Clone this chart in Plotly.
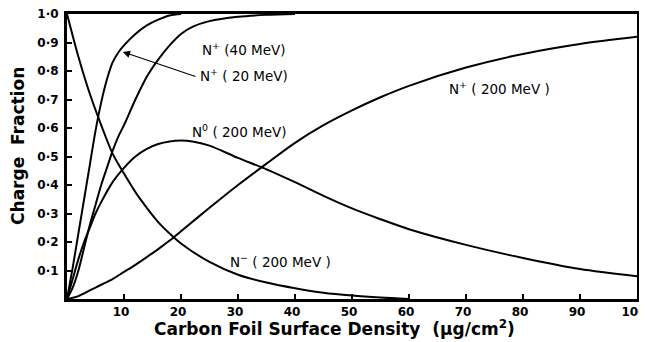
import plotly.graph_objects as go

# N- (200 MeV)
nminus_x = [0, 2, 4, 6, 8, 10, 12, 14, 16, 18, 20, 25, 30, 35, 40, 45, 50, 55, 60]
nminus_y = [1.0, 0.85, 0.72, 0.61, 0.51, 0.44, 0.375, 0.32, 0.27, 0.23, 0.195, 0.13, 0.085, 0.058, 0.038, 0.022, 0.012, 0.005, 0.0]

# N0 (200 MeV)
nzero_x = [0, 1, 2, 3, 4, 5, 6, 8, 10, 12, 14, 16, 18, 20, 22, 25, 30, 35, 40, 45, 50, 55, 60, 70, 80, 90, 100]
nzero_y = [0, 0.07, 0.14, 0.20, 0.25, 0.30, 0.34, 0.41, 0.46, 0.50, 0.527, 0.544, 0.553, 0.556, 0.553, 0.538, 0.495, 0.455, 0.41, 0.362, 0.318, 0.28, 0.245, 0.19, 0.144, 0.105, 0.08]

# N+ (200 MeV)
nplus200_x = [0, 2, 4, 6, 8, 10, 12, 14, 16, 18, 20, 25, 30, 35, 40, 45, 50, 55, 60, 70, 80, 90, 100]
nplus200_y = [0, 0.01, 0.03, 0.05, 0.07, 0.095, 0.12, 0.147, 0.175, 0.205, 0.238, 0.32, 0.40, 0.475, 0.548, 0.61, 0.662, 0.708, 0.748, 0.812, 0.86, 0.895, 0.92]

# N+ (20 MeV)
nplus20_x = [0, 1, 2, 3, 4, 5, 6, 7, 8, 9, 10, 12, 14, 16, 18, 20]
nplus20_y = [0, 0.11, 0.23, 0.35, 0.47, 0.59, 0.69, 0.77, 0.83, 0.865, 0.89, 0.93, 0.96, 0.98, 0.995, 1.0]

# N+ (40 MeV)
nplus40_x = [0, 1, 2, 3, 4, 5, 6, 7, 8, 9, 10, 12, 14, 16, 18, 20, 22, 25, 30, 35, 40]
nplus40_y = [0, 0.04, 0.10, 0.18, 0.26, 0.33, 0.40, 0.46, 0.52, 0.57, 0.61, 0.70, 0.78, 0.84, 0.89, 0.93, 0.955, 0.975, 0.99, 0.997, 1.0]

x_tickvals = [10, 20, 30, 40, 50, 60, 70, 80, 90, 100]
x_ticktext = ["10", "20", "30", "40", "50", "60", "70", "80", "90", "100"]
y_tickvals = [0.1, 0.2, 0.3, 0.4, 0.5, 0.6, 0.7, 0.8, 0.9, 1.0]
y_ticktext = ["0·1", "0·2", "0·3", "0·4", "0·5", "0·6", "0·7", "0·8", "0·9", "1·0"]

FONT = "DejaVu Sans"

fig = go.Figure()
for xs, ys in [(nminus_x, nminus_y), (nzero_x, nzero_y), (nplus200_x, nplus200_y),
               (nplus20_x, nplus20_y), (nplus40_x, nplus40_y)]:
    fig.add_trace(go.Scatter(x=xs, y=ys, mode="lines",
                             line=dict(color="black", width=2, shape="spline", smoothing=0.8),
                             showlegend=False, hoverinfo="skip"))

labels = [
    (23.3, 0.877, "N<sup>+</sup> (40 MeV)"),
    (23.0, 0.786, "N<sup>+</sup> ( 20 MeV)"),
    (21.6, 0.59, "N<sup>0</sup> ( 200 MeV)"),
    (28.2, 0.133, "N<sup>−</sup> ( 200 MeV )"),
    (66.7, 0.74, "N<sup>+</sup> ( 200 MeV )"),
]
for lx, ly, txt in labels:
    fig.add_annotation(x=lx, y=ly, text=txt, showarrow=False, xanchor="left", yanchor="middle",
                       font=dict(family=FONT, size=13.5, color="black"))

fig.add_annotation(x=9.8, y=0.867, ax=22.8, ay=0.779, axref="x", ayref="y", xref="x", yref="y",
                   text="", showarrow=True, arrowhead=2, arrowsize=1.2, arrowwidth=1.2,
                   arrowcolor="black")

fig.add_annotation(x=-0.086, y=0.537, xref="paper", yref="paper", text="Charge  Fraction",
                   textangle=-90, showarrow=False, xanchor="center", yanchor="middle",
                   font=dict(family=FONT, size=17, color="black", weight="bold"))
fig.add_annotation(x=0.47, y=-0.1, xref="paper", yref="paper",
                   text="Carbon Foil Surface Density  (μg/cm<sup>2</sup>)", showarrow=False,
                   xanchor="center", yanchor="middle",
                   font=dict(family=FONT, size=17, color="black", weight="bold"))

axis_common = dict(showgrid=False, zeroline=False, showline=True, linecolor="black", linewidth=3,
                   mirror=True, ticks="inside", ticklen=5, tickwidth=2, tickcolor="black",
                   ticklabeloverflow="allow", automargin=False,
                   tickfont=dict(family=FONT, size=12, color="black", weight="bold"))

fig.update_xaxes(range=[0, 100], tickvals=x_tickvals, ticktext=x_ticktext, ticklabelshift=-3,
                 **axis_common)
fig.update_yaxes(range=[0, 1], tickvals=y_tickvals, ticktext=y_ticktext, ticklabelstandoff=3,
                 **axis_common)

# page body adds an 8px offset, so the figure is sized to the visible area
fig.update_layout(width=639, height=334, margin=dict(l=59, r=10, t=6, b=43),
                  paper_bgcolor="white", plot_bgcolor="white")

fig.write_html("out.html")
